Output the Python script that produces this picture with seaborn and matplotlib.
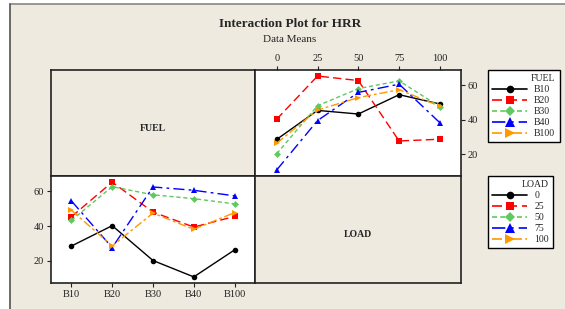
#!/usr/bin/env python3
"""
Interaction plot for HRR (data means) - FUEL x LOAD.
"""

import pandas as pd
import matplotlib
matplotlib.use('Agg')
import matplotlib.pyplot as plt
from matplotlib.lines import Line2D
from matplotlib.patches import Rectangle
import seaborn as sns

# ============ Data ============
fuels = ['B10', 'B20', 'B30', 'B40', 'B100']
loads = [0, 25, 50, 75, 100]

# HRR means, one list per fuel, ordered by load
hrr_b10 = [28.5, 45.3, 43.2, 54.4, 49.0]
hrr_b20 = [40.2, 65.2, 62.6, 27.6, 28.6]
hrr_b30 = [20.2, 48.0, 57.9, 62.4, 47.4]
hrr_b40 = [10.8, 39.4, 55.7, 60.5, 38.1]
hrr_b100 = [26.3, 45.5, 52.7, 57.3, 47.7]

y_ticks = [20, 40, 60]

rows = []
for fuel, vals in zip(fuels, [hrr_b10, hrr_b20, hrr_b30, hrr_b40, hrr_b100]):
    for load, v in zip(loads, vals):
        rows.append({'FUEL': fuel, 'LOAD': load, 'LOAD_s': str(load), 'HRR': v})
df = pd.DataFrame(rows)

# ============ Style ============
sns.set_theme(style='ticks')
plt.rcParams['font.family'] = ['Liberation Serif', 'DejaVu Serif']

BG = '#EEEADF'
colors = ['#000000', '#FF0000', '#5FC85F', '#0000FF', '#FF9900']
marks = ['o', 's', 'D', '^', '>']
dash_list = ['', (6, 3), (3, 2), (8, 3, 2, 3), (6, 2, 2, 2)]
msizes = [4, 4, 3.5, 5, 5]

load_keys = [str(l) for l in loads]

W, H = 565, 309
fig = plt.figure(figsize=(W / 100, H / 100), dpi=100)
fig.patch.set_facecolor('white')

# beige canvas with grey top/left edge
fig.add_artist(Rectangle((10 / W, 0), 1 - 10 / W, 1 - 4 / H, transform=fig.transFigure,
                         facecolor=BG, edgecolor='none', zorder=-10))
fig.add_artist(Line2D([10 / W, 1], [1 - 4 / H, 1 - 4 / H], transform=fig.transFigure,
                      color='#8a8580', lw=1.2))
fig.add_artist(Line2D([10 / W, 10 / W], [0, 1 - 4 / H], transform=fig.transFigure,
                      color='#55514c', lw=1.2))


def px_axes(x0, y0, x1, y1):
    return fig.add_axes([x0 / W, 1 - y1 / H, (x1 - x0) / W, (y1 - y0) / H])


ax_tl = px_axes(51, 70, 255, 176)
ax_tr = px_axes(255, 70, 461, 176)
ax_bl = px_axes(51, 176, 255, 283)
ax_br = px_axes(255, 176, 461, 283)

ylim = (7.3, 68.7)
spine_c = '#222222'

for ax in [ax_tl, ax_tr, ax_bl, ax_br]:
    for s in ax.spines.values():
        s.set_visible(True)
        s.set_color(spine_c)
        s.set_linewidth(1.2)

for ax, label in [(ax_tl, 'FUEL'), (ax_br, 'LOAD')]:
    ax.set_facecolor(BG)
    ax.set_xticks([])
    ax.set_yticks([])
    ax.text(0.5, 0.45, label, transform=ax.transAxes, ha='center', va='center',
            fontsize=7, fontweight='bold')

# ============ Top right: HRR vs LOAD by FUEL ============
ax_tr.set_facecolor('white')
for i, f in enumerate(fuels):
    sns.lineplot(data=df[df['FUEL'] == f], x='LOAD', y='HRR', color=colors[i],
                 marker=marks[i], markersize=msizes[i], markeredgewidth=0,
                 linewidth=1, ax=ax_tr, legend=False, sort=False,
                 **({} if dash_list[i] == '' else {'linestyle': (0, dash_list[i])}))
ax_tr.set_xlim(-13.3, 112.9)
ax_tr.set_ylim(*ylim)
ax_tr.set_xticks(loads)
ax_tr.set_yticks(y_ticks)
ax_tr.xaxis.tick_top()
ax_tr.yaxis.tick_right()
ax_tr.set_xlabel('')
ax_tr.set_ylabel('')
ax_tr.tick_params(direction='out', length=3, width=0.8, labelsize=7.5, pad=2, colors='#222222')

# ============ Bottom left: HRR vs FUEL by LOAD ============
ax_bl.set_facecolor('white')
for i, l in enumerate(load_keys):
    sub = df[df['LOAD_s'] == l]
    sns.lineplot(x=list(range(len(fuels))), y=sub['HRR'].values, color=colors[i],
                 marker=marks[i], markersize=msizes[i], markeredgewidth=0,
                 linewidth=1, ax=ax_bl, legend=False, sort=False,
                 **({} if dash_list[i] == '' else {'linestyle': (0, dash_list[i])}))
ax_bl.set_xlim(-0.5, 4.5)
ax_bl.set_ylim(*ylim)
ax_bl.set_xticks(range(len(fuels)))
ax_bl.set_xticklabels(fuels)
ax_bl.set_yticks(y_ticks)
ax_bl.tick_params(direction='out', length=3, width=0.8, labelsize=7.5, pad=2, colors='#222222')

# ============ Legends ============
def make_handles():
    return [Line2D([], [], color=colors[i], marker=marks[i], markersize=msizes[i] + 1.5,
                   markeredgewidth=0, lw=1.2,
                   linestyle='-' if dash_list[i] == '' else (0, dash_list[i]))
            for i in range(5)]


for names, title, top in [(fuels, 'FUEL', 70), (load_keys, 'LOAD', 176)]:
    leg = fig.legend(make_handles(), names, title=title, loc='upper left',
                     bbox_to_anchor=(488 / W, 1 - top / H), fontsize=7, title_fontsize=7,
                     frameon=True, fancybox=False, edgecolor='black', facecolor='white',
                     framealpha=1, handlelength=3.6, labelspacing=0.2, borderpad=0.45,
                     handletextpad=0.7, borderaxespad=0)
    leg.get_frame().set_linewidth(1)
    leg._legend_box.align = 'right'

# ============ Titles ============
fig.text(290 / W, 1 - 24 / H, 'Interaction Plot for HRR', ha='center', va='center',
         fontsize=9.5, fontweight='bold')
fig.text(290 / W, 1 - 40 / H, 'Data Means', ha='center', va='center', fontsize=8)

plt.savefig('out.png', dpi=100, facecolor=fig.get_facecolor())
plt.close()
